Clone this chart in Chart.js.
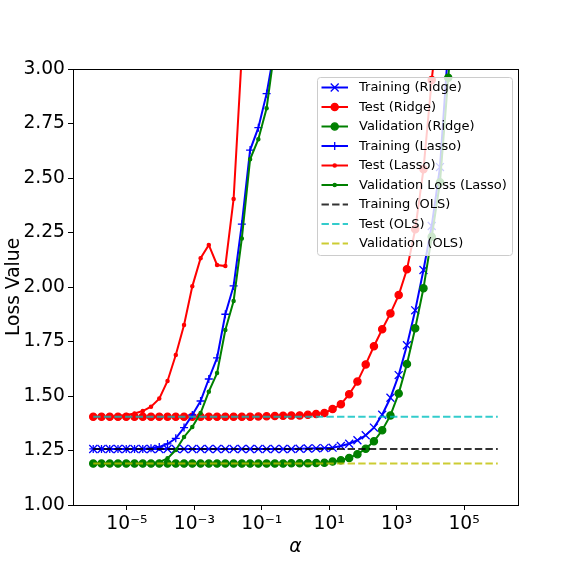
<!DOCTYPE html>
<html>
<head>
<meta charset="utf-8">
<script src="https://cdn.jsdelivr.net/npm/chart.js@4/dist/chart.umd.min.js"></script>
<style>
  body { margin: 0; background: #fff; }
  canvas { display: block; }
</style>
</head>
<body>
<canvas id="loss_chart" width="576" height="576"></canvas>
<script>
// alpha grid (50 log-spaced values, 1e-6 .. 1e6)
var alphas = [1.00e-6, 1.76e-6, 3.09e-6, 5.43e-6, 9.54e-6, 1.68e-5, 2.95e-5, 5.18e-5, 9.10e-5, 1.60e-4,
  2.81e-4, 4.94e-4, 8.69e-4, 1.53e-3, 2.68e-3, 4.71e-3, 8.29e-3, 1.46e-2, 2.56e-2, 4.50e-2,
  7.91e-2, 0.139, 0.244, 0.429, 0.754, 1.33, 2.33, 4.09, 7.20, 12.6,
  22.2, 39.1, 68.7, 121, 212, 373, 655, 1151, 2024, 3556,
  6251, 10985, 19307, 33932, 59636, 104811, 184207, 323746, 568987, 1e6];

// ridge losses (series stop once they leave the plot)
var ridgeTrain = [1.257, 1.257, 1.257, 1.257, 1.257, 1.257, 1.257, 1.257, 1.257, 1.257,
  1.257, 1.257, 1.257, 1.257, 1.257, 1.257, 1.257, 1.257, 1.257, 1.257,
  1.257, 1.257, 1.257, 1.257, 1.257, 1.258, 1.259, 1.260, 1.261, 1.263,
  1.271, 1.281, 1.297, 1.320, 1.355, 1.414, 1.492, 1.596, 1.733, 1.893,
  2.078, 2.28, 2.55, 3.1];
var ridgeTest = [1.405, 1.405, 1.405, 1.405, 1.405, 1.405, 1.405, 1.405, 1.405, 1.405,
  1.405, 1.405, 1.405, 1.405, 1.405, 1.405, 1.405, 1.405, 1.405, 1.405,
  1.406, 1.407, 1.408, 1.409, 1.410, 1.411, 1.414, 1.417, 1.422, 1.440,
  1.462, 1.508, 1.566, 1.645, 1.728, 1.806, 1.879, 1.963, 2.081, 2.265,
  2.54, 2.95, 3.3];
var ridgeVal = [1.19, 1.19, 1.19, 1.19, 1.19, 1.19, 1.19, 1.19, 1.19, 1.19,
  1.19, 1.19, 1.19, 1.19, 1.19, 1.19, 1.19, 1.19, 1.19, 1.19,
  1.19, 1.19, 1.19, 1.19, 1.191, 1.191, 1.192, 1.193, 1.194, 1.199,
  1.205, 1.216, 1.233, 1.258, 1.292, 1.343, 1.411, 1.512, 1.647, 1.811,
  1.994, 2.23, 2.48, 2.96, 3.4];

// lasso losses
var lassoTrain = [1.257, 1.257, 1.257, 1.257, 1.257, 1.257, 1.257, 1.260, 1.266, 1.280,
  1.306, 1.355, 1.413, 1.477, 1.578, 1.675, 1.875, 2.005, 2.288, 2.628,
  2.731, 2.887, 3.1];
var lassoTest = [1.405, 1.405, 1.405, 1.408, 1.413, 1.420, 1.431, 1.451, 1.488, 1.569,
  1.688, 1.826, 2.003, 2.132, 2.193, 2.101, 2.096, 2.404, 3.07];
var lassoVal = [1.19, 1.19, 1.19, 1.19, 1.19, 1.19, 1.19, 1.19, 1.197, 1.214,
  1.252, 1.312, 1.358, 1.422, 1.52, 1.605, 1.803, 1.936, 2.223, 2.586,
  2.678, 2.82, 3.1];

// OLS reference lines
var olsAlphas = [1e-6, 1e6];
var olsTrain = [1.257, 1.257];
var olsTest = [1.405, 1.405];
var olsVal = [1.19, 1.19];

var xTickExps = [-5, -3, -1, 1, 3, 5];
var yTicks = [1.00, 1.25, 1.50, 1.75, 2.00, 2.25, 2.50, 2.75, 3.00];

var FONT = "'DejaVu Sans', sans-serif";

function pts(xs, ys) {
  var out = [];
  for (var i = 0; i < ys.length; i++) out.push({x: xs[i], y: ys[i]});
  return out;
}

function series(label, xs, ys, color, style, radius, dash) {
  return {
    label: label,
    data: pts(xs, ys),
    borderColor: color,
    backgroundColor: color,
    borderWidth: 2,
    borderDash: dash || [],
    pointStyle: style || false,
    pointRadius: style ? radius : 0,
    pointBorderWidth: 1.3,
    pointBackgroundColor: color,
    pointBorderColor: color,
    tension: 0,
    fill: false
  };
}

var sets = [
  series("Training (Ridge)", alphas, ridgeTrain, "#0000ff", "crossRot", 5.6),
  series("Test (Ridge)", alphas, ridgeTest, "#ff0000", "circle", 3.6),
  series("Validation (Ridge)", alphas, ridgeVal, "#008000", "circle", 3.6),
  series("Training (Lasso)", alphas, lassoTrain, "#0000ff", "cross", 4),
  series("Test (Lasso)", alphas, lassoTest, "#ff0000", "circle", 1.6),
  series("Validation Loss (Lasso)", alphas, lassoVal, "#008000", "circle", 1.6),
  series("Training (OLS)", olsAlphas, olsTrain, "rgba(0,0,0,0.8)", null, 0, [7.4, 3.2]),
  series("Test (OLS)", olsAlphas, olsTest, "rgba(0,191,191,0.8)", null, 0, [7.4, 3.2]),
  series("Validation (OLS)", olsAlphas, olsVal, "rgba(191,191,0,0.8)", null, 0, [7.4, 3.2])
];
// later series on top, like matplotlib
for (var k = 0; k < sets.length; k++) sets[k].order = sets.length - k;

var SUP = {"-": "\u207B", "0": "\u2070", "1": "\u00B9", "2": "\u00B2", "3": "\u00B3", "4": "\u2074",
  "5": "\u2075", "6": "\u2076", "7": "\u2077", "8": "\u2078", "9": "\u2079"};
function sup(n) {
  return String(n).split("").map(function (c) { return SUP[c]; }).join("");
}

function drawMarker(ctx, style, r, x, y, color) {
  ctx.save();
  ctx.strokeStyle = color;
  ctx.fillStyle = color;
  ctx.lineWidth = 1.3;
  ctx.setLineDash([]);
  ctx.beginPath();
  if (style == "circle") {
    ctx.arc(x, y, r, 0, Math.PI * 2);
    ctx.fill();
    ctx.stroke();
  } else if (style == "crossRot") {
    var d = r * Math.SQRT1_2;
    ctx.moveTo(x - d, y - d); ctx.lineTo(x + d, y + d);
    ctx.moveTo(x - d, y + d); ctx.lineTo(x + d, y - d);
    ctx.stroke();
  } else if (style == "cross") {
    ctx.moveTo(x - r, y); ctx.lineTo(x + r, y);
    ctx.moveTo(x, y - r); ctx.lineTo(x, y + r);
    ctx.stroke();
  }
  ctx.restore();
}

// frame + legend box in the upper right of the axes
var framePlugin = {
  id: "frame",
  afterDraw: function (chart) {
    var ctx = chart.ctx, a = chart.chartArea;
    ctx.save();
    ctx.strokeStyle = "#000";
    ctx.lineWidth = 1;
    ctx.strokeRect(Math.round(a.left) + 0.5, Math.round(a.top) + 0.5,
      Math.round(a.right - a.left), Math.round(a.bottom - a.top));

    var w = 195, h = 178, bx = a.right - 6 - w, by = a.top + 8;
    ctx.beginPath();
    ctx.roundRect(bx + 0.5, by + 0.5, w, h, 3);
    ctx.fillStyle = "rgba(255,255,255,0.8)";
    ctx.fill();
    ctx.strokeStyle = "#cccccc";
    ctx.stroke();

    ctx.font = "13px " + FONT;
    ctx.textBaseline = "middle";
    ctx.textAlign = "left";
    chart.data.datasets.forEach(function (ds, i) {
      var y = by + 10.5 + i * 19.5;
      ctx.save();
      ctx.strokeStyle = ds.borderColor;
      ctx.lineWidth = 2;
      ctx.setLineDash(ds.borderDash);
      ctx.beginPath();
      ctx.moveTo(bx + 4.5, y);
      ctx.lineTo(bx + 31, y);
      ctx.stroke();
      ctx.restore();
      if (ds.pointStyle) drawMarker(ctx, ds.pointStyle, ds.pointRadius, bx + 17.7, y, ds.borderColor);
      ctx.fillStyle = "#000";
      ctx.fillText(ds.label, bx + 42, y + 0.5);
    });
    ctx.restore();
  }
};

var ctx = document.getElementById("loss_chart").getContext("2d");
var loss_chart = new Chart(ctx, {
  type: "line",
  data: { datasets: sets },
  plugins: [framePlugin],
  options: {
    responsive: false,
    animation: false,
    layout: { padding: { top: 69, right: 58, left: 0, bottom: 0 } },
    plugins: { legend: { display: false }, tooltip: { enabled: false } },
    scales: {
      x: {
        type: "logarithmic",
        min: Math.pow(10, -6.6),
        max: Math.pow(10, 6.6),
        afterBuildTicks: function (scale) {
          scale.ticks = xTickExps.map(function (e) { return {value: Math.pow(10, e)}; });
        },
        afterFit: function (scale) { scale.height = 71; },
        ticks: {
          autoSkip: false, maxRotation: 0, padding: 3,
          color: "#000",
          font: { family: FONT, size: 18.7 },
          callback: function (v) { return "10" + sup(Math.round(Math.log10(v))); }
        },
        grid: { drawOnChartArea: false, drawTicks: true, tickLength: 5, color: "#000" },
        border: { display: true, color: "#000" },
        title: {
          display: true, text: "\u03B1", color: "#000",
          font: { family: FONT, size: 18.7, style: "italic" },
          padding: { top: 0, bottom: 18 }
        }
      },
      y: {
        type: "linear",
        min: 1,
        max: 3,
        afterBuildTicks: function (scale) {
          scale.ticks = yTicks.map(function (v) { return {value: v}; });
        },
        afterFit: function (scale) { scale.width = 73; },
        ticks: {
          padding: 3,
          color: "#000",
          font: { family: FONT, size: 18.7 },
          callback: function (v) { return Number(v).toFixed(2); }
        },
        grid: { drawOnChartArea: false, drawTicks: true, tickLength: 5, color: "#000" },
        border: { display: true, color: "#000" },
        title: {
          display: true, text: "Loss Value", color: "#000",
          font: { family: FONT, size: 18.7 },
          padding: { top: 3, bottom: 0 }
        }
      }
    }
  }
});
</script>
</body>
</html>
